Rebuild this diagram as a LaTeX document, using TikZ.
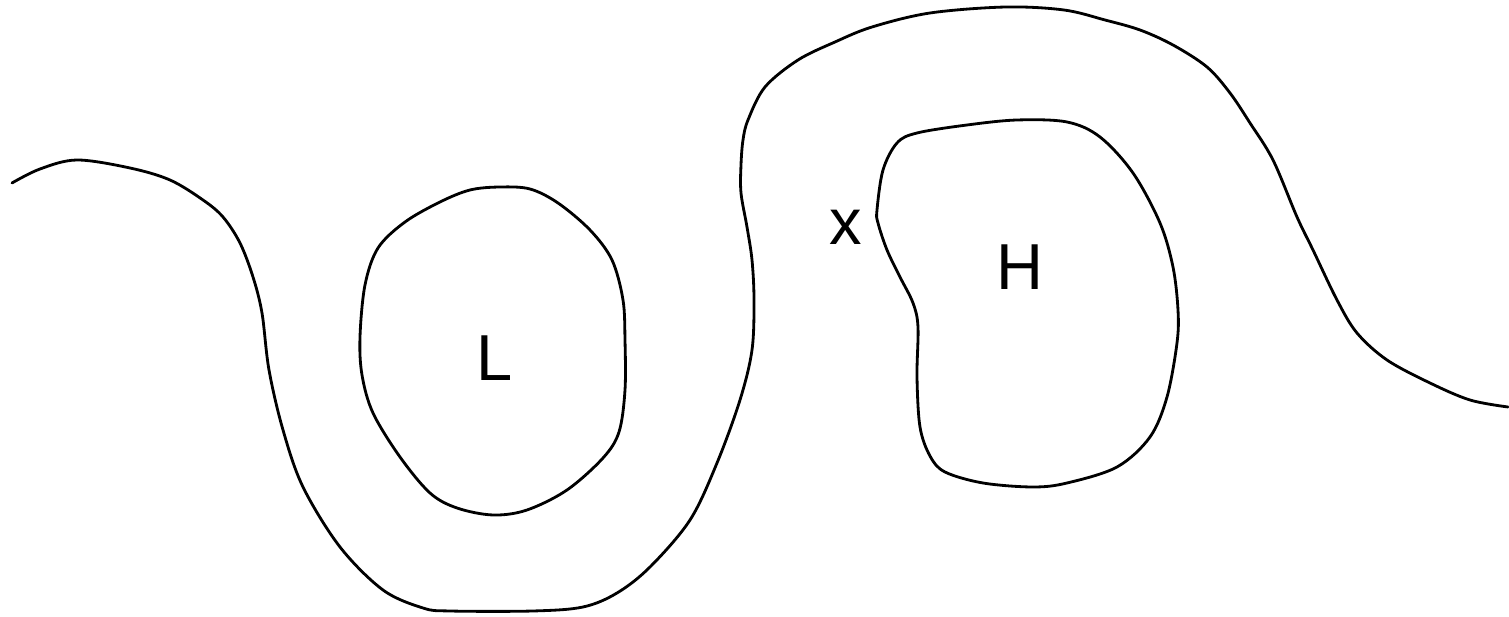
\documentclass[tikz,border=0pt]{standalone}
\usepackage{fontspec}
\setmainfont{Liberation Sans}
\tikzset{
  isobar/.style={draw=black, line width=1.6pt, line join=round, line cap=round},
  mark label/.style={inner sep=0pt, anchor=base, font=\fontsize{37}{40}\selectfont}
}
\begin{document}
\begin{tikzpicture}[x=0.02cm, y=-0.02cm]
\useasboundingbox (0,0) rectangle (1509,617);

% long wavy isobar across the map
\draw[isobar] plot[smooth, tension=0.55] coordinates {
  (12,183) (40,169) (77,160) (130,168) (170,180) (203,200) (223,217)
  (240,243) (253,277) (262,313) (269,370) (283,430) (303,487) (340,547)
  (383,590) (423,608) (450,611) (533,611) (583,607) (617,593) (650,567)
  (690,520) (717,463) (740,400) (752,350) (754,300) (752,260) (747,227)
  (741,193) (741,165) (743,140) (748,120) (765,87) (798,60) (835,42)
  (872,27) (930,13) (1006,7) (1064,10) (1105,20) (1140,30) (1173,45)
  (1207,67) (1230,93) (1250,123) (1273,160) (1297,217) (1313,250)
  (1337,300) (1357,333) (1387,360) (1430,383) (1470,400) (1508,407)};

% closed isobar round the low
\draw[isobar] plot[smooth cycle, tension=0.55] coordinates {
  (360,337) (365,285) (378,248) (405,222) (440,202) (470,190) (500,187)
  (530,189) (558,203) (590,230) (612,260) (623,300) (625,340) (625,390)
  (619,432) (603,458) (567,490) (527,510) (493,515) (457,508) (430,493)
  (400,457) (373,413) (362,375)};

% closed isobar round the high
\draw[isobar] plot[smooth cycle, tension=0.55] coordinates {
  (878,223) (877,210) (883,170) (897,143) (917,133) (967,125) (1017,120)
  (1067,122) (1100,137) (1133,173) (1160,223) (1173,267) (1178,310)
  (1177,343) (1167,397) (1150,437) (1117,467) (1067,483) (1033,487)
  (983,483) (945,472) (930,456) (920,427) (917,377) (918,327) (913,303)
  (900,277) (887,250)};

\node[mark label] (low) at (495,381) {L};
\node[mark label] (high) at (1020,290) {H};
\node[mark label] (col) at (846,245) {x};
\end{tikzpicture}
\end{document}
